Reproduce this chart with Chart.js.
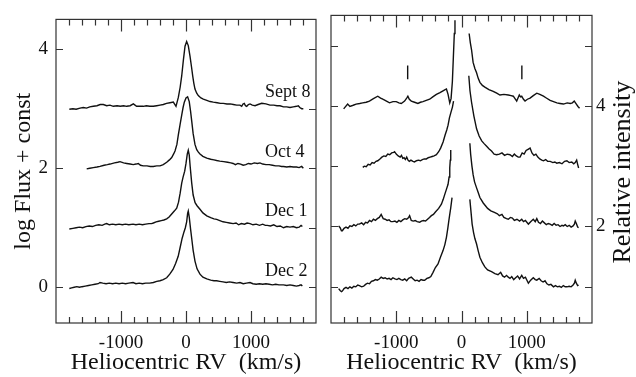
<!DOCTYPE html>
<html>
<head>
<meta charset="utf-8">
<script src="https://cdn.jsdelivr.net/npm/chart.js@4.4.1/dist/chart.umd.min.js"></script>
<style>
  html, body { margin: 0; padding: 0; background: #fff; }
  #wrap { position: relative; width: 636px; height: 377px; }
  .panel { position: absolute; top: 0; width: 318px; height: 377px; }
</style>
</head>
<body>
<div id="wrap">
  <div class="panel" style="left:0"><canvas id="chart-left"></canvas></div>
  <div class="panel" style="left:318px"><canvas id="chart-right"></canvas></div>
</div>
<script>
// ─── DATA ────────────────────────────────────────────────────
const rvTicks = [-1800, -1600, -1400, -1200, -1000, -800, -600, -400, -200, 0, 200, 400, 600, 800, 1000, 1200, 1400, 1600, 1800];
const rvLabels = [-1000, 0, 1000];

const dateLabels = ['Sept 8', 'Oct 4', 'Dec 1', 'Dec 2'];
const dateBaselines = [3, 2, 1, 0];

// left panel: log flux + const
const sept8LeftRV = [-1795,-1740,-1690,-1630,-1580,-1530,-1480,-1426,-1370,-1320,-1272,-1220,-1170,-1118,-1060,-1010,-960,-912,-860,-810,-760,-708,-682,-657,-610,-560,-503,-450,-400,-349,-300,-246,-195,-154,-118,-90,-66,-40,-15,10,35,62,85,103,120,138,165,189,230,266,320,370,420,480,530,574,630,680,728,780,830,857,877,897,915,934,960,985,1020,1062,1110,1165,1230,1292,1350,1400,1446,1500,1550,1600,1650,1700,1728,1750,1780,1805];
const sept8LeftFlux = [2.99,3.00,2.99,3.01,3.02,3.01,3.03,3.04,3.05,3.07,3.07,3.05,3.06,3.04,3.05,3.04,3.05,3.04,3.05,3.08,3.04,3.04,3.04,3.04,3.05,3.04,3.04,3.05,3.06,3.07,3.09,3.10,3.11,3.04,3.19,3.36,3.55,3.82,4.05,4.13,4.06,3.88,3.70,3.55,3.43,3.33,3.26,3.22,3.18,3.16,3.14,3.12,3.11,3.10,3.09,3.09,3.08,3.08,3.07,3.06,3.06,3.04,3.08,3.09,3.05,3.04,3.07,3.08,3.06,3.05,3.07,3.09,3.08,3.06,3.06,3.05,3.05,3.03,3.03,3.02,3.03,3.04,3.05,3.02,3.00,3.00];

const oct4LeftRV = [-1528,-1480,-1426,-1370,-1323,-1260,-1210,-1169,-1100,-1050,-1015,-960,-912,-860,-811,-770,-734,-700,-657,-600,-550,-503,-450,-400,-350,-297,-255,-220,-190,-169,-140,-118,-92,-66,-45,-26,0,25,50,70,88,110,138,165,190,215,260,320,380,430,472,520,580,640,690,725,760,800,840,880,920,960,1000,1050,1100,1138,1180,1230,1280,1330,1380,1430,1470,1500,1550,1600,1650,1700,1740,1780,1805];
const oct4LeftFlux = [1.99,2.00,2.01,2.02,2.03,2.05,2.06,2.07,2.09,2.10,2.11,2.09,2.08,2.07,2.06,2.07,2.08,2.05,2.04,2.04,2.03,2.03,2.04,2.04,2.06,2.10,2.14,2.18,2.24,2.29,2.40,2.56,2.73,2.89,3.02,3.11,3.18,3.20,3.12,2.96,2.79,2.58,2.40,2.31,2.27,2.24,2.20,2.17,2.15,2.14,2.13,2.12,2.11,2.10,2.09,2.08,2.06,2.08,2.07,2.05,2.06,2.08,2.07,2.09,2.08,2.09,2.07,2.06,2.06,2.05,2.04,2.04,2.03,2.03,2.02,2.03,2.02,2.02,2.01,2.03,2.00];

const dec1LeftRV = [-1795,-1740,-1690,-1640,-1590,-1540,-1490,-1440,-1390,-1340,-1290,-1250,-1220,-1180,-1130,-1080,-1030,-980,-930,-880,-815,-770,-720,-670,-620,-570,-530,-502,-460,-420,-380,-340,-297,-260,-220,-180,-143,-115,-90,-66,-45,-20,0,20,35,50,65,88,110,140,170,215,260,320,380,430,472,520,570,620,670,725,770,810,850,900,940,985,1030,1080,1130,1180,1220,1250,1300,1350,1400,1450,1500,1550,1600,1650,1700,1740,1770,1790];
const dec1LeftFlux = [0.98,0.99,1.00,1.01,1.00,1.02,1.03,1.02,1.04,1.05,1.04,1.06,1.07,1.05,1.06,1.05,1.06,1.05,1.06,1.05,1.06,1.05,1.06,1.05,1.06,1.07,1.07,1.08,1.10,1.11,1.12,1.13,1.15,1.18,1.23,1.28,1.33,1.43,1.58,1.75,1.85,1.95,2.08,2.24,2.30,2.22,2.02,1.75,1.55,1.42,1.37,1.31,1.25,1.20,1.17,1.15,1.14,1.12,1.10,1.09,1.08,1.07,1.08,1.05,1.07,1.06,1.08,1.07,1.05,1.06,1.04,1.06,1.04,1.04,1.03,1.05,1.02,1.03,1.00,1.02,1.01,1.02,1.00,1.01,1.04,1.02];

const dec2LeftRV = [-1795,-1760,-1720,-1680,-1640,-1600,-1550,-1500,-1450,-1400,-1350,-1323,-1280,-1230,-1180,-1130,-1080,-1030,-980,-930,-880,-815,-770,-720,-670,-620,-560,-502,-450,-400,-350,-297,-250,-200,-160,-120,-92,-60,-31,-10,10,25,35,50,70,88,110,138,170,215,260,320,380,430,472,520,570,620,670,725,780,830,880,930,985,1030,1080,1130,1180,1230,1280,1330,1380,1430,1500,1550,1600,1650,1700,1740,1770,1790];
const dec2LeftFlux = [-0.02,-0.01,0.00,0.01,0.00,0.01,0.02,0.03,0.04,0.05,0.06,0.08,0.07,0.06,0.07,0.06,0.07,0.06,0.07,0.06,0.07,0.08,0.06,0.07,0.06,0.07,0.07,0.08,0.10,0.11,0.13,0.16,0.22,0.30,0.40,0.52,0.66,0.82,0.93,1.00,1.10,1.24,1.28,1.18,0.98,0.82,0.62,0.44,0.31,0.22,0.17,0.14,0.12,0.11,0.11,0.10,0.09,0.08,0.09,0.08,0.07,0.08,0.06,0.07,0.08,0.06,0.05,0.06,0.05,0.06,0.05,0.04,0.05,0.04,0.04,0.03,0.04,0.03,0.02,0.03,0.04,0.02];

// right panel: relative intensity, line core removed (blue and red wings)
const sept8BlueRV = [-1806,-1745,-1710,-1660,-1615,-1560,-1514,-1460,-1411,-1350,-1283,-1240,-1206,-1150,-1103,-1050,-1000,-960,-923,-872,-840,-822,-800,-769,-720,-668,-630,-591,-540,-488,-440,-385,-330,-283,-250,-231,-206,-180,-160,-140,-125,-110,-100];
const sept8BlueInt = [3.95,4.03,3.99,4.01,4.03,4.04,4.05,4.06,4.08,4.12,4.16,4.13,4.11,4.08,4.05,4.07,4.07,4.05,4.04,4.08,4.13,4.16,4.11,4.08,4.06,4.04,4.06,4.07,4.09,4.11,4.15,4.19,4.22,4.25,4.27,4.28,4.19,4.05,4.12,4.40,4.80,5.20,5.42];
const sept8RedRV = [117,135,154,178,205,231,255,282,320,358,420,486,540,589,650,717,760,794,820,846,866,886,905,923,950,974,1010,1051,1100,1154,1200,1256,1300,1358,1410,1462,1510,1563,1620,1666,1700,1728,1760,1785,1809];
const sept8RedInt = [5.20,5.05,4.93,4.72,4.62,4.55,4.46,4.39,4.34,4.31,4.27,4.24,4.21,4.18,4.19,4.18,4.17,4.16,4.12,4.08,4.13,4.18,4.15,4.16,4.11,4.08,4.11,4.13,4.17,4.21,4.19,4.16,4.13,4.09,4.07,4.05,4.04,4.03,4.05,4.04,4.05,4.08,4.03,3.99,3.96];

const oct4BlueRV = [-1513,-1490,-1460,-1430,-1400,-1370,-1340,-1310,-1283,-1250,-1220,-1190,-1160,-1130,-1100,-1070,-1040,-1026,-1000,-970,-940,-920,-900,-880,-860,-840,-820,-800,-775,-744,-720,-690,-660,-630,-600,-570,-538,-510,-480,-450,-420,-385,-350,-320,-282,-250,-226,-206,-185,-160,-139,-122];
const oct4BlueInt = [2.98,3.00,2.99,3.03,3.02,3.06,3.05,3.08,3.09,3.12,3.15,3.17,3.16,3.20,3.19,3.22,3.23,3.24,3.20,3.17,3.15,3.18,3.13,3.14,3.11,3.15,3.10,3.08,3.10,3.08,3.07,3.09,3.10,3.09,3.11,3.12,3.12,3.14,3.15,3.16,3.17,3.19,3.24,3.30,3.40,3.52,3.60,3.68,3.80,3.90,3.98,4.08];
const oct4RedRV = [112,130,154,190,231,270,310,350,385,420,460,500,538,580,620,660,700,743,780,810,840,870,897,930,960,990,1020,1051,1080,1110,1140,1170,1200,1230,1256,1290,1320,1360,1400,1430,1460,1500,1540,1580,1615,1650,1690,1720,1743,1765,1780,1795];
const oct4RedInt = [4.50,4.25,4.06,3.83,3.62,3.50,3.42,3.37,3.33,3.29,3.25,3.20,3.19,3.20,3.22,3.18,3.20,3.19,3.16,3.20,3.17,3.15,3.15,3.22,3.20,3.26,3.28,3.30,3.22,3.18,3.20,3.15,3.12,3.10,3.09,3.11,3.08,3.08,3.06,3.07,3.05,3.06,3.04,3.08,3.09,3.06,3.07,3.04,3.06,3.10,3.03,2.97];

const dec1BlueRV = [-1883,-1860,-1840,-1826,-1800,-1770,-1740,-1710,-1680,-1650,-1620,-1590,-1565,-1530,-1500,-1470,-1440,-1410,-1380,-1350,-1320,-1290,-1260,-1231,-1200,-1170,-1140,-1110,-1080,-1052,-1020,-990,-960,-930,-900,-870,-840,-810,-795,-770,-740,-710,-680,-641,-615,-580,-550,-520,-490,-462,-430,-400,-350,-308,-280,-260,-230,-206,-190,-180,-172,-165];
const dec1BlueInt = [2.01,1.98,1.93,1.93,1.97,1.99,1.97,2.01,2.00,2.03,2.01,2.04,2.04,2.06,2.03,2.07,2.06,2.10,2.08,2.12,2.10,2.13,2.15,2.20,2.13,2.12,2.10,2.11,2.08,2.08,2.09,2.07,2.10,2.08,2.11,2.13,2.12,2.15,2.18,2.10,2.09,2.10,2.08,2.07,2.09,2.10,2.09,2.12,2.15,2.18,2.20,2.24,2.30,2.37,2.45,2.52,2.62,2.70,2.82,2.97,3.10,3.27];
const dec1RedRV = [128,140,160,178,200,231,260,282,333,370,400,450,512,550,580,620,650,690,717,750,780,810,850,890,923,950,980,1025,1060,1100,1130,1154,1180,1210,1240,1270,1300,1330,1358,1390,1420,1450,1480,1510,1540,1563,1590,1620,1650,1680,1710,1730,1743,1760,1780,1795];
const dec1RedInt = [3.38,3.20,3.00,2.86,2.74,2.64,2.55,2.48,2.39,2.34,2.30,2.26,2.23,2.21,2.18,2.20,2.15,2.13,2.12,2.15,2.14,2.10,2.12,2.09,2.12,2.08,2.10,2.04,2.08,2.12,2.08,2.13,2.07,2.05,2.09,2.06,2.03,2.05,2.04,2.02,2.05,2.02,2.03,2.00,2.02,2.01,2.03,2.00,2.02,1.99,2.01,2.04,2.09,2.05,1.99,1.98];

const dec2BlueRV = [-1883,-1860,-1840,-1826,-1800,-1770,-1740,-1710,-1680,-1650,-1620,-1590,-1565,-1530,-1500,-1470,-1440,-1410,-1380,-1350,-1320,-1290,-1260,-1231,-1200,-1170,-1140,-1110,-1080,-1052,-1020,-990,-960,-930,-900,-870,-840,-810,-769,-740,-710,-680,-650,-620,-590,-565,-530,-500,-470,-436,-400,-360,-320,-283,-255,-231,-210,-195,-180,-165,-145];
const dec2BlueInt = [0.97,0.94,0.92,0.93,0.97,0.99,0.97,1.00,0.98,1.01,1.00,1.03,1.02,1.00,1.01,1.04,1.06,1.05,1.09,1.10,1.12,1.11,1.13,1.16,1.14,1.15,1.13,1.14,1.12,1.15,1.13,1.12,1.14,1.12,1.11,1.13,1.10,1.14,1.16,1.13,1.10,1.11,1.09,1.12,1.11,1.11,1.14,1.15,1.17,1.24,1.32,1.38,1.50,1.60,1.70,1.82,1.97,2.09,2.20,2.31,2.48];
const dec2RedRV = [128,145,163,185,205,231,255,282,320,358,400,460,512,560,600,630,660,690,717,743,770,800,830,860,890,923,950,980,1025,1060,1100,1130,1154,1190,1220,1250,1280,1310,1340,1370,1410,1440,1470,1500,1530,1560,1590,1615,1650,1680,1710,1730,1743,1760,1780,1795];
const dec2RedInt = [2.45,2.25,2.04,1.90,1.80,1.71,1.60,1.49,1.40,1.33,1.28,1.25,1.22,1.20,1.24,1.18,1.16,1.19,1.16,1.14,1.17,1.12,1.15,1.18,1.13,1.19,1.14,1.16,1.06,1.11,1.15,1.12,1.11,1.14,1.10,1.08,1.10,1.05,1.03,1.04,1.00,1.02,1.00,1.01,0.99,1.02,1.00,1.00,1.01,1.00,1.03,1.06,1.11,1.06,1.02,1.03];

// vertical markers above the Sept 8 wings
const markerRV = [-825, 925];
const markerInt = [4.44, 4.67];

const leftLabelTicks = [0, 2, 4];
const leftMarksL = [0, 2, 4];
const leftMarksR = [0, 1, 2, 3, 4];
const rightLabelTicks = [2, 4];
const rightMarks = [1, 2, 3, 4, 5];

// ─── HELPERS ─────────────────────────────────────────────────
const SERIF = "'Liberation Serif', 'DejaVu Serif', 'Times New Roman', serif";
const INK = '#111';

Chart.defaults.font.family = SERIF;
Chart.defaults.color = INK;
Chart.defaults.animation = false;

function spectrum(rv, vals) {
  return {
    data: rv.map((v, i) => ({ x: v, y: vals[i] })),
    borderColor: INK,
    borderWidth: 1.4,
    pointRadius: 0,
    tension: 0,
  };
}

function rvScale() {
  return {
    type: 'linear',
    min: -2000,
    max: 2000,
    afterBuildTicks: s => { s.ticks = rvTicks.map(v => ({ value: v })); },
    afterFit: s => { s.height = 54; },
    grid: { display: false, drawTicks: false },
    border: { display: false },
    ticks: {
      autoSkip: false,
      maxRotation: 0,
      padding: 9,
      font: { family: SERIF, size: 19 },
      callback: v => rvLabels.includes(v) ? String(v) : '',
    },
    title: {
      display: true,
      text: 'Heliocentric RV  (km/s)',
      font: { family: SERIF, size: 24 },
      padding: { top: 0, bottom: 0 },
    },
  };
}

// frame box + inward tick marks
function framePlugin(marksL, marksR) {
  return {
    id: 'frame',
    afterDraw(chart) {
      const { ctx, chartArea: a, scales: { x, y } } = chart;
      ctx.save();
      ctx.strokeStyle = '#333';
      ctx.lineWidth = 1.2;
      ctx.strokeRect(a.left, a.top, a.right - a.left, a.bottom - a.top);
      ctx.beginPath();
      rvTicks.forEach(v => {
        const px = Math.round(x.getPixelForValue(v)) + 0.5;
        const len = rvLabels.includes(v) ? 12 : 6;
        ctx.moveTo(px, a.bottom); ctx.lineTo(px, a.bottom - len);
        ctx.moveTo(px, a.top); ctx.lineTo(px, a.top + len);
      });
      marksL.forEach(v => {
        const py = Math.round(y.getPixelForValue(v)) + 0.5;
        ctx.moveTo(a.left, py); ctx.lineTo(a.left + 7, py);
      });
      marksR.forEach(v => {
        const py = Math.round(y.getPixelForValue(v)) + 0.5;
        ctx.moveTo(a.right, py); ctx.lineTo(a.right - 7, py);
      });
      ctx.stroke();
      ctx.restore();
    }
  };
}

const datePlugin = {
  id: 'dates',
  afterDatasetsDraw(chart) {
    const { ctx, scales: { x, y } } = chart;
    ctx.save();
    ctx.fillStyle = INK;
    ctx.font = '18px ' + SERIF;
    ctx.textAlign = 'left';
    ctx.textBaseline = 'alphabetic';
    dateLabels.forEach((t, i) => {
      ctx.fillText(t, x.getPixelForValue(1215), y.getPixelForValue(dateBaselines[i] + 0.19));
    });
    ctx.restore();
  }
};

const rightTitlePlugin = {
  id: 'rtitle',
  afterDraw(chart) {
    const { ctx, chartArea: a } = chart;
    ctx.save();
    ctx.fillStyle = INK;
    ctx.font = '26px ' + SERIF;
    ctx.textAlign = 'center';
    ctx.textBaseline = 'middle';
    ctx.translate(305, (a.top + a.bottom) / 2 + 3);
    ctx.rotate(-Math.PI / 2);
    ctx.fillText('Relative intensity', 0, 0);
    ctx.restore();
  }
};

// ─── LEFT PANEL ──────────────────────────────────────────────
new Chart(document.getElementById('chart-left'), {
  type: 'line',
  data: {
    datasets: [
      spectrum(sept8LeftRV, sept8LeftFlux),
      spectrum(oct4LeftRV, oct4LeftFlux),
      spectrum(dec1LeftRV, dec1LeftFlux),
      spectrum(dec2LeftRV, dec2LeftFlux),
    ]
  },
  options: {
    responsive: true,
    maintainAspectRatio: false,
    layout: { padding: { top: 12, right: 2, left: 0, bottom: 0 } },
    plugins: { legend: { display: false }, tooltip: { enabled: false } },
    scales: {
      x: rvScale(),
      y: {
        type: 'linear',
        min: -0.6,
        max: 4.5,
        afterBuildTicks: s => { s.ticks = leftLabelTicks.map(v => ({ value: v })); },
        afterFit: s => { s.width = 56; },
        grid: { display: false, drawTicks: false },
        border: { display: false },
        ticks: { padding: 8, font: { family: SERIF, size: 19 } },
        title: {
          display: true,
          text: 'log Flux + const',
          font: { family: SERIF, size: 24 },
          padding: { top: 9, bottom: 0 },
        },
      }
    }
  },
  plugins: [framePlugin(leftMarksL, leftMarksR), datePlugin]
});

// ─── RIGHT PANEL ─────────────────────────────────────────────
const markerSets = markerRV.map(v => ({
  data: markerInt.map(h => ({ x: v, y: h })),
  borderColor: INK,
  borderWidth: 1.4,
  pointRadius: 0,
}));

new Chart(document.getElementById('chart-right'), {
  type: 'line',
  data: {
    datasets: [
      spectrum(sept8BlueRV, sept8BlueInt),
      spectrum(sept8RedRV, sept8RedInt),
      spectrum(oct4BlueRV, oct4BlueInt),
      spectrum(oct4RedRV, oct4RedInt),
      spectrum(dec1BlueRV, dec1BlueInt),
      spectrum(dec1RedRV, dec1RedInt),
      spectrum(dec2BlueRV, dec2BlueInt),
      spectrum(dec2RedRV, dec2RedInt),
      ...markerSets,
    ]
  },
  options: {
    responsive: true,
    maintainAspectRatio: false,
    layout: { padding: { top: 12, right: 0, left: 13, bottom: 0 } },
    plugins: { legend: { display: false }, tooltip: { enabled: false } },
    scales: {
      x: rvScale(),
      y: {
        type: 'linear',
        position: 'right',
        min: 0.4,
        max: 5.5,
        afterBuildTicks: s => { s.ticks = rightLabelTicks.map(v => ({ value: v })); },
        afterFit: s => { s.width = 44; },
        grid: { display: false, drawTicks: false },
        border: { display: false },
        ticks: { padding: 4, font: { family: SERIF, size: 19 } },
      }
    }
  },
  plugins: [framePlugin(rightMarks, rightMarks), rightTitlePlugin]
});
</script>
</body>
</html>
